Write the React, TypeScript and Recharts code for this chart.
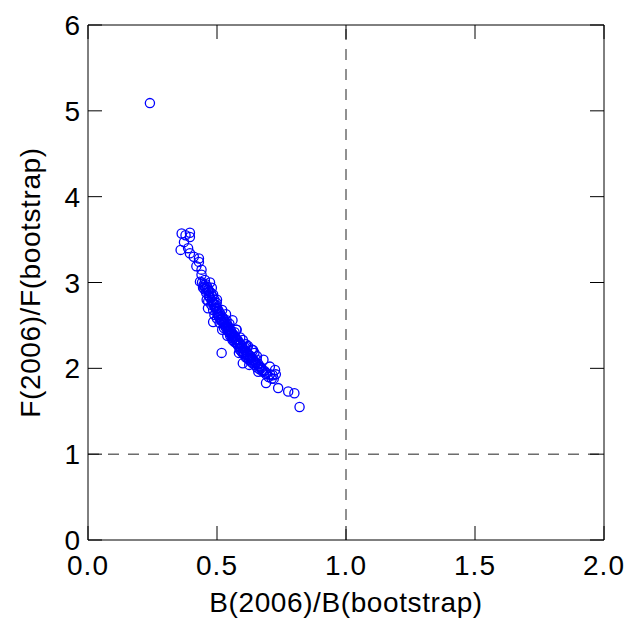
import React from "react";
import {
  ScatterChart,
  Scatter,
  XAxis,
  YAxis,
  ReferenceLine,
} from "recharts";

// bootstrap runs: B(2006)/B(bootstrap) and F(2006)/F(bootstrap)
const bRatio = [
  0.24, 0.363, 0.395, 0.395, 0.359, 0.372, 0.378, 0.388, 0.395, 0.41,
  0.43, 0.43, 0.42, 0.44, 0.44, 0.434, 0.453, 0.473, 0.446, 0.465,
  0.485, 0.46, 0.499, 0.465, 0.485, 0.52, 0.485, 0.51, 0.537, 0.56,
  0.52, 0.55, 0.576, 0.518, 0.56, 0.6, 0.589, 0.615, 0.6, 0.628,
  0.64, 0.654, 0.667, 0.68, 0.705, 0.69, 0.725, 0.728, 0.69, 0.737,
  0.776, 0.8, 0.82,
  0.442, 0.448, 0.451, 0.456, 0.458, 0.462, 0.468, 0.47, 0.474, 0.476,
  0.48, 0.482, 0.487, 0.49, 0.492, 0.495, 0.498, 0.501, 0.503, 0.506,
  0.508, 0.512, 0.514, 0.517, 0.52, 0.523, 0.525, 0.528, 0.531, 0.533,
  0.536, 0.539, 0.541, 0.544, 0.546, 0.549, 0.551, 0.554, 0.557, 0.559,
  0.562, 0.565, 0.567, 0.57, 0.572, 0.575, 0.578, 0.58, 0.583, 0.586,
  0.588, 0.591, 0.594, 0.597, 0.599, 0.602, 0.605, 0.608, 0.611, 0.614,
  0.617, 0.62, 0.624, 0.627, 0.631, 0.634, 0.638, 0.642, 0.646, 0.65,
  0.655, 0.66, 0.665, 0.672, 0.678, 0.684, 0.7, 0.712, 0.716,
  0.466, 0.478, 0.5, 0.527, 0.548, 0.568, 0.59, 0.612, 0.635, 0.655,
  0.49, 0.54, 0.585, 0.625, 0.66,
  0.452, 0.459, 0.471, 0.483, 0.497, 0.507, 0.516, 0.526, 0.535, 0.545,
  0.555, 0.563, 0.573, 0.581, 0.593, 0.603, 0.609, 0.619, 0.629, 0.639,
  0.648, 0.662, 0.675, 0.69, 0.706, 0.72, 0.48, 0.5, 0.535, 0.575,
  0.62, 0.645,
];

const fRatio = [
  5.09, 3.57, 3.58, 3.53, 3.38, 3.47, 3.55, 3.4, 3.34, 3.3,
  3.28, 3.24, 3.19, 3.15, 3.09, 3.01, 3.03, 3.0, 2.94, 2.91,
  2.86, 2.8, 2.76, 2.7, 2.68, 2.68, 2.54, 2.53, 2.56, 2.56,
  2.45, 2.41, 2.45, 2.18, 2.33, 2.33, 2.24, 2.25, 2.06, 2.14,
  2.21, 2.1, 2.02, 2.1, 2.02, 1.95, 1.98, 1.93, 1.83, 1.77,
  1.73, 1.71, 1.55,
  3.0, 2.97, 2.92, 2.98, 2.88, 2.95, 2.85, 2.9, 2.82, 2.88,
  2.79, 2.84, 2.75, 2.8, 2.71, 2.74, 2.66, 2.7, 2.62, 2.67,
  2.6, 2.64, 2.57, 2.61, 2.55, 2.59, 2.52, 2.56, 2.49, 2.54,
  2.47, 2.51, 2.44, 2.49, 2.42, 2.46, 2.38, 2.44, 2.36, 2.41,
  2.35, 2.39, 2.31, 2.37, 2.3, 2.34, 2.28, 2.33, 2.26, 2.3,
  2.22, 2.28, 2.2, 2.26, 2.18, 2.23, 2.16, 2.21, 2.13, 2.19,
  2.12, 2.17, 2.1, 2.15, 2.08, 2.12, 2.06, 2.09, 2.04, 2.07,
  2.01, 2.05, 1.99, 2.0, 1.96, 1.97, 1.9, 1.88, 1.92,
  2.78, 2.74, 2.58, 2.47, 2.52, 2.42, 2.36, 2.28, 2.22, 2.14,
  2.62, 2.38, 2.18, 2.04, 1.96,
  2.95, 2.93, 2.83, 2.77, 2.69, 2.63, 2.56, 2.53, 2.5, 2.45,
  2.4, 2.37, 2.33, 2.29, 2.24, 2.19, 2.24, 2.15, 2.11, 2.1,
  2.06, 2.02, 1.98, 1.93, 1.93, 1.88, 2.94, 2.8, 2.63, 2.45,
  2.26, 2.18,
];

const xTicks = [0, 0.5, 1, 1.5, 2];
const yTicks = [0, 1, 2, 3, 4, 5, 6];

const points = bRatio.map((b, i) => ({ b, f: fRatio[i] }));

const FONT = "'Liberation Sans', Arial, sans-serif";
const W = 628;
const H = 631;
const M = { top: 25, right: 24, bottom: 19, left: 18 };
const X_AXIS_H = 72;
const Y_AXIS_W = 70;
// frame edges in pixels
const PLOT_TOP = M.top;
const PLOT_BOTTOM = H - M.bottom - X_AXIS_H;
const PLOT_LEFT = M.left + Y_AXIS_W;
const PLOT_RIGHT = W - M.right;
const TICK_LEN = 14;

// inward tick marks on bottom and top edges, label under the bottom
const BottomTick = (props: any) => {
  const { x, payload } = props;
  return (
    <g>
      <line x1={x} y1={PLOT_BOTTOM} x2={x} y2={PLOT_BOTTOM - TICK_LEN} stroke="#000" />
      <line x1={x} y1={PLOT_TOP} x2={x} y2={PLOT_TOP + TICK_LEN} stroke="#000" />
      <text
        x={x}
        y={PLOT_BOTTOM + 35}
        textAnchor="middle"
        fontFamily={FONT}
        fontSize={28}
        letterSpacing={1}
        fill="#000"
      >
        {Number(payload.value).toFixed(1)}
      </text>
    </g>
  );
};

// inward tick marks on left and right edges, label left of the frame
const LeftTick = (props: any) => {
  const { y, payload } = props;
  return (
    <g>
      <line x1={PLOT_LEFT} y1={y} x2={PLOT_LEFT + TICK_LEN} y2={y} stroke="#000" />
      <line x1={PLOT_RIGHT} y1={y} x2={PLOT_RIGHT - TICK_LEN} y2={y} stroke="#000" />
      <text
        x={PLOT_LEFT - 8}
        y={y + 10}
        textAnchor="end"
        fontFamily={FONT}
        fontSize={28}
        fill="#000"
      >
        {payload.value}
      </text>
    </g>
  );
};

const Ring = (props: any) => (
  <circle
    cx={props.cx}
    cy={props.cy}
    r={4.6}
    fill="none"
    stroke="#0000ff"
    strokeWidth={1.3}
  />
);

export default function App() {
  return (
    <div style={{ position: "absolute", left: 0, top: 0, background: "#fff" }}>
      <ScatterChart width={W} height={H} margin={M}>
        <XAxis
          dataKey="b"
          type="number"
          domain={[0, 2]}
          ticks={xTicks}
          tickSize={0}
          tickMargin={0}
          tickLine={false}
          tick={<BottomTick />}
          height={X_AXIS_H}
          stroke="#000"
          label={{
            value: "B(2006)/B(bootstrap)",
            position: "insideBottom",
            offset: 0,
            fontFamily: FONT,
            fontSize: 28,
            letterSpacing: 0.6,
            fill: "#000",
          }}
        />
        <YAxis
          dataKey="f"
          type="number"
          domain={[0, 6]}
          ticks={yTicks}
          tickSize={0}
          tickMargin={0}
          tickLine={false}
          tick={<LeftTick />}
          width={Y_AXIS_W}
          stroke="#000"
          label={{
            value: "F(2006)/F(bootstrap)",
            angle: -90,
            position: "insideLeft",
            offset: 12,
            fontFamily: FONT,
            fontSize: 28,
            letterSpacing: 0.6,
            fill: "#000",
            style: { textAnchor: "middle" },
          }}
        />
        <ReferenceLine y={6} stroke="#000" />
        <ReferenceLine x={2} stroke="#000" />
        <ReferenceLine x={1} stroke="#222" strokeDasharray="11 9" />
        <ReferenceLine y={1} stroke="#222" strokeDasharray="11 9" />
        <Scatter data={points} shape={<Ring />} isAnimationActive={false} />
      </ScatterChart>
    </div>
  );
}
